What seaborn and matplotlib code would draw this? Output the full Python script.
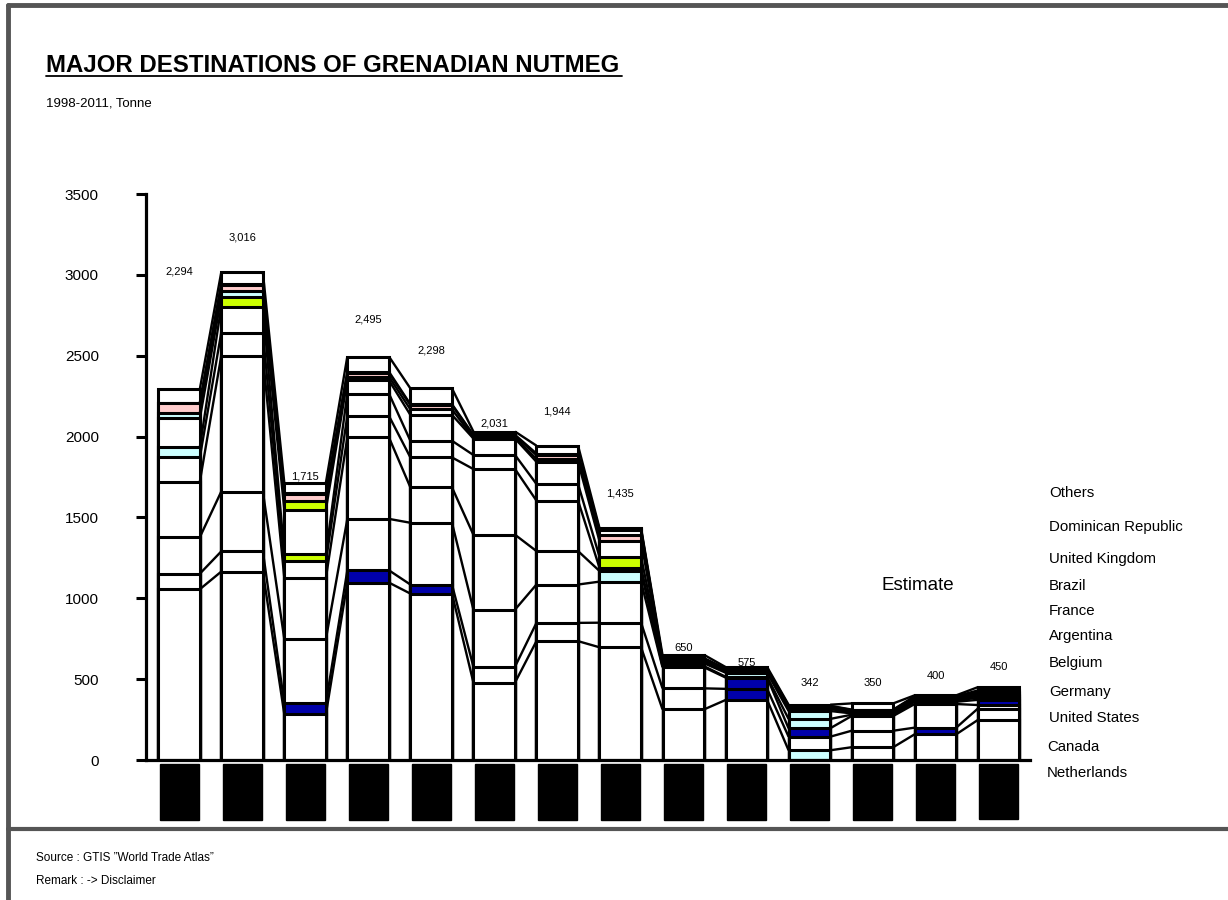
import matplotlib.pyplot as plt
from matplotlib.lines import Line2D
import numpy as np
import seaborn as sns

sns.set_style("white")
plt.rcParams["font.family"] = ["Liberation Sans", "DejaVu Sans"]
plt.rcParams["text.color"] = "black"
plt.rcParams["xtick.color"] = "black"
plt.rcParams["ytick.color"] = "black"

years = [str(y) for y in range(1998, 2012)]
totals = [2294, 3016, 1715, 2495, 2298, 2031, 1944, 1435, 650, 575, 342, 350, 400, 450]

# stacked from the bottom up
countries = ["Netherlands", "Canada", "United States", "Germany", "Belgium", "Argentina",
             "France", "Brazil", "United Kingdom", "Dominican Republic", "Others"]
netherlands = [1056, 1165, 283, 1097, 1029, 479, 735, 697, 313, 371, 60, 79, 159, 247]
canada = [96, 125, 68, 76, 56, 98, 113, 152, 130, 69, 84, 102, 41, 70]
united_states = [226, 370, 397, 318, 382, 353, 237, 254, 130, 70, 52, 91, 146, 23]
germany = [343, 840, 378, 504, 219, 463, 207, 66, 7, 5, 58, 8, 14, 32]
belgium = [150, 143, 102, 133, 185, 406, 312, 20, 18, 25, 49, 8, 8, 13]
argentina = [64, 161, 48, 138, 103, 87, 103, 68, 7, 5, 12, 7, 7, 10]
france = [177, 56, 273, 82, 160, 102, 137, 97, 7, 5, 7, 5, 5, 10]
brazil = [34, 40, 55, 22, 34, 5, 18, 38, 6, 5, 6, 5, 5, 7]
united_kingdom = [59, 37, 41, 22, 27, 12, 23, 28, 7, 5, 5, 4, 5, 8]
dominican_rep = [5, 8, 5, 9, 5, 6, 10, 7, 5, 5, 2, 3, 4, 10]
others = [84, 71, 65, 94, 98, 20, 49, 8, 20, 10, 7, 38, 6, 20]
series = [netherlands, canada, united_states, germany, belgium, argentina,
          france, brazil, united_kingdom, dominican_rep, others]

# coloured cells (country -> {year index: colour}); all others white
BLUE, CYAN, LIME, PINK = "#0000AA", "#CCFFFF", "#CCFF00", "#FFCCCC"
highlights = {
    "Netherlands": {10: CYAN},
    "Canada": {2: BLUE, 3: BLUE, 4: BLUE, 9: BLUE, 12: BLUE},
    "United States": {9: BLUE, 10: BLUE},
    "Germany": {7: CYAN, 10: CYAN, 13: BLUE},
    "Belgium": {8: CYAN, 9: CYAN, 10: CYAN, 12: CYAN},
    "Argentina": {0: CYAN, 2: LIME, 7: LIME},
    "France": {1: LIME},
    "Brazil": {0: CYAN, 1: CYAN, 2: LIME, 3: LIME, 6: LIME, 7: PINK, 8: PINK},
    "United Kingdom": {0: PINK, 1: PINK, 2: PINK, 3: PINK, 4: PINK, 5: PINK, 6: PINK},
}

label_y = [3018, 3234, 1756, 2721, 2535, 2078, 2158, 1645, 693, 600, 476, 476, 519, 575]

cum = np.cumsum(np.array(series), axis=0)

W, H = 1228, 900
fig = plt.figure(figsize=(W / 100, H / 100), dpi=100)
ax = fig.add_axes([146 / W, 1 - 760 / H, (1030 - 146) / W, (760 - 194) / H])

bw = 0.66
# draw cumulative heights from the top layer down so lower layers overlay
for k in range(len(countries) - 1, -1, -1):
    cols = [highlights.get(countries[k], {}).get(j, "white") for j in range(len(years))]
    sns.barplot(x=years, y=cum[k], hue=years, palette=cols, legend=False, width=bw,
                saturation=1, edgecolor="black", linewidth=2.2, errorbar=None, ax=ax)

# series lines between neighbouring bars
for k in range(len(countries)):
    for j in range(len(years) - 1):
        ax.plot([j + bw / 2, j + 1 - bw / 2], [cum[k][j], cum[k][j + 1]],
                color="black", lw=1.7, solid_capstyle="butt", zorder=1)

for j, t in enumerate(totals):
    ax.text(j, label_y[j], f"{t:,}", ha="center", va="center", fontsize=8)

ax.text(11.72, 1080, "Estimate", ha="center", va="center", fontsize=13.5)

ax.set_xlim(-0.524, 13.5)
ax.set_ylim(0, 3500)
ax.set_yticks(range(0, 3501, 500))
ax.tick_params(axis="y", length=7, width=2.2, pad=27, labelsize=11, left=True, direction="out")
ax.set_xlabel("")
ax.set_ylabel("")
for s in ["top", "right"]:
    ax.spines[s].set_visible(False)
for s in ["left", "bottom"]:
    ax.spines[s].set_linewidth(2.3)
    ax.spines[s].set_color("black")

ax.tick_params(axis="x", length=0, pad=12)
for lab in ax.get_xticklabels():
    lab.set_rotation(90)
    lab.set_fontsize(10)
    lab.set_color("black")
    lab.set_bbox(dict(boxstyle="square,pad=0.9", facecolor="black", edgecolor="black"))

# right-hand series labels
legend_y = {"Others": 493, "Dominican Republic": 527, "United Kingdom": 559, "Brazil": 586,
            "France": 611, "Argentina": 636, "Belgium": 663, "Germany": 692,
            "United States": 718, "Canada": 747, "Netherlands": 773}
for name in countries:
    x0 = 1049 if name not in ("Canada", "Netherlands") else 1047
    fig.text(x0 / W, 1 - legend_y[name] / H, name, fontsize=10.8, va="center")

# title block
fig.text(46 / W, 1 - 65 / H, "MAJOR DESTINATIONS OF GRENADIAN NUTMEG",
         fontsize=17.3, fontweight="bold", va="center")
fig.add_artist(Line2D([46 / W, 622 / W], [1 - 76 / H] * 2, color="black", lw=1.3))
fig.text(46 / W, 1 - 103 / H, "1998-2011, Tonne", fontsize=9.5, va="center")

fig.text(36 / W, 1 - 858 / H, "Source : GTIS \u201dWorld Trade Atlas\u201d", fontsize=8.5, va="center")
fig.text(36 / W, 1 - 881 / H, "Remark : -> Disclaimer", fontsize=8.5, va="center")

# frame
grey = "#555555"
fig.add_artist(Line2D([8 / W, 1], [1 - 5 / H] * 2, color=grey, lw=3.5))
fig.add_artist(Line2D([8 / W] * 2, [1 - 5 / H, 0], color=grey, lw=3.5))
fig.add_artist(Line2D([8 / W, 1], [1 - 829 / H] * 2, color=grey, lw=3))

fig.savefig("out.png", dpi=100)
